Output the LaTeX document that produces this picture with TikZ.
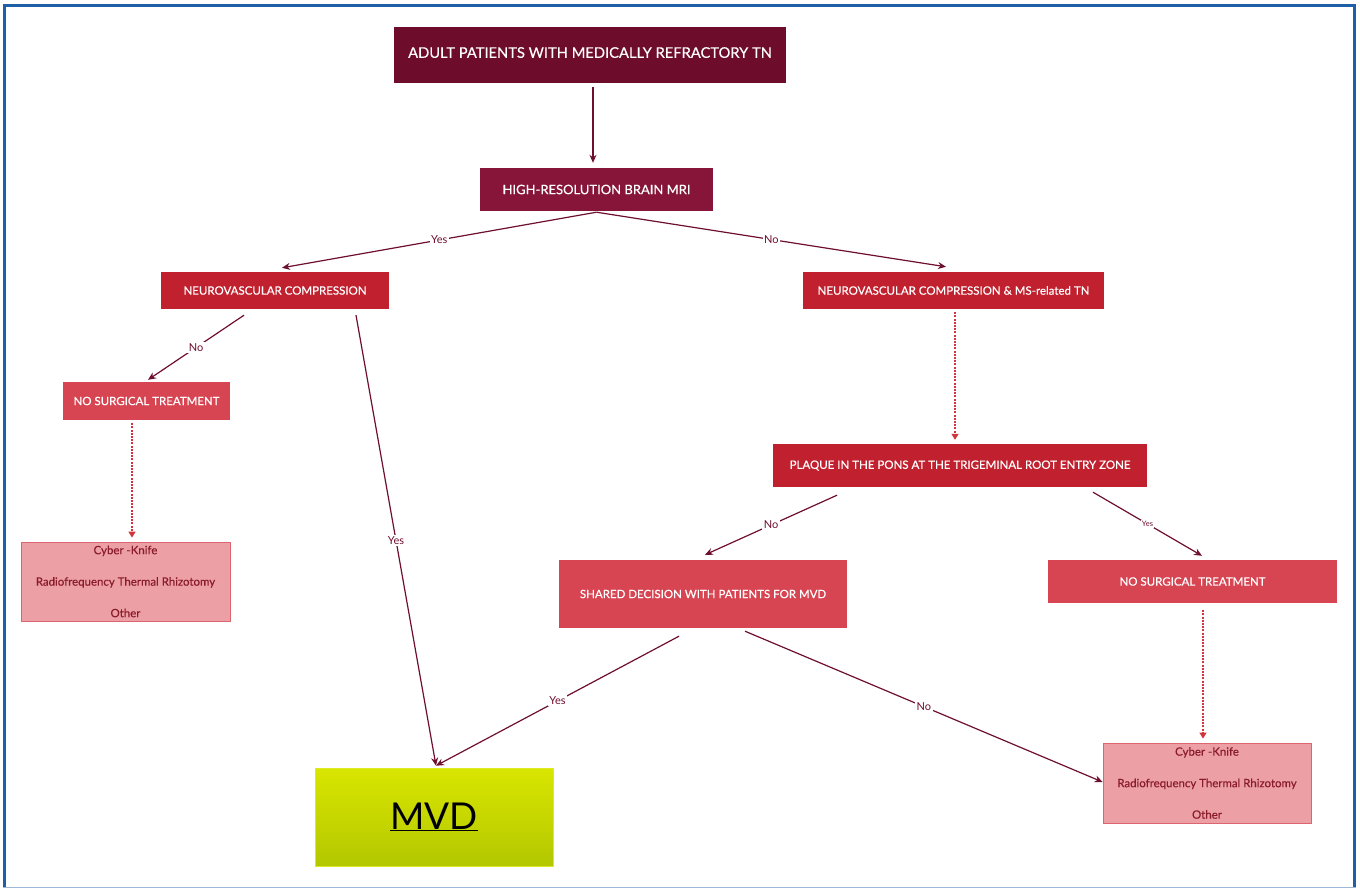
\documentclass[tikz,border=0pt]{standalone}
\usepackage{fontspec}
\setmainfont{Lato}
\newfontfamily\latomed{Lato}[FakeBold=0.35]
\usetikzlibrary{arrows.meta,calc}
\definecolor{darkm}{HTML}{6E0C2B}
\definecolor{midm}{HTML}{861539}
\definecolor{redbox}{HTML}{C1212F}
\definecolor{litered}{HTML}{D84552}
\definecolor{palered}{HTML}{EC9FA5}
\definecolor{paleborder}{HTML}{DB6670}
\definecolor{paletext}{HTML}{8A1B2B}
\definecolor{arrowc}{HTML}{6F0F2F}
\definecolor{dashc}{HTML}{D2343C}
\definecolor{frameblue}{HTML}{1F5FA8}
\definecolor{lightblue}{HTML}{9DB8D6}
\definecolor{mvdtop}{HTML}{D9E600}
\definecolor{mvdbot}{HTML}{B3C700}
\begin{document}
\begin{tikzpicture}[x=1pt,y=-1pt,
  box/.style={rectangle, inner sep=0pt, text=white, align=center},
  bigfont/.style={font=\latomed\fontsize{14.7}{17}\selectfont},
  highfont/.style={font=\latomed\fontsize{13}{15}\selectfont},
  medfont/.style={font=\latomed\fontsize{11.5}{14}\selectfont},
  palebox/.style={rectangle, inner sep=0pt, fill=palered, draw=paleborder, line width=0.8pt, text=paletext, align=center, font=\latomed\fontsize{11.45}{31.5}\selectfont},
  arr/.style={draw=arrowc, line width=1.2pt, -{Stealth[length=8pt,width=7pt]}},
  dsh/.style={draw=dashc, line width=1.2pt, dash pattern=on 2pt off 1.2pt, -{Triangle[length=6pt,width=7pt,fill=dashc]}},
  lbl/.style={fill=white, inner sep=1.5pt, text=arrowc, font=\fontsize{11}{12}\selectfont},
  slbl/.style={fill=white, inner sep=1pt, text=arrowc, font=\fontsize{7.5}{9}\selectfont}
]
\useasboundingbox (0,0) rectangle (1360,888);
\fill[white] (0,0) rectangle (1360,888);
\draw[lightblue, line width=1.2pt] (3,887.2) -- (1356,887.2);
\draw[frameblue, line width=3pt] (4.5,887) -- (4.5,6) -- (1354,6) -- (1354,887);

% nodes
\node[box, bigfont, fill=darkm, minimum width=392pt, minimum height=56pt] (top) at (590,55) {\raisebox{5pt}{ADULT PATIENTS WITH MEDICALLY REFRACTORY TN}};
\node[box, highfont, fill=midm, minimum width=233pt, minimum height=43pt] (high) at (596.5,189.5) {HIGH-RESOLUTION BRAIN MRI};
\node[box, medfont, fill=redbox, minimum width=228pt, minimum height=37pt] (nvc) at (275,290.5) {NEUROVASCULAR COMPRESSION};
\node[box, medfont, fill=redbox, minimum width=301pt, minimum height=37pt] (nvcms) at (953.5,290.5) {NEUROVASCULAR COMPRESSION \& MS-related TN};
\node[box, medfont, fill=litered, minimum width=167pt, minimum height=38pt] (noL) at (146.5,401) {NO SURGICAL TREATMENT};
\node[palebox, minimum width=209pt, minimum height=79pt] (cyL) at (125.5,581.5) {Cyber -Knife\\Radiofrequency Thermal Rhizotomy\\Other};
\node[box, medfont, fill=redbox, minimum width=374pt, minimum height=43pt] (plaque) at (960,465.5) {PLAQUE IN THE PONS AT THE TRIGEMINAL ROOT ENTRY ZONE};
\node[box, medfont, fill=litered, minimum width=288pt, minimum height=68pt] (shared) at (703,594) {SHARED DECISION WITH PATIENTS FOR MVD};
\node[box, medfont, fill=litered, minimum width=289pt, minimum height=43pt] (noR) at (1192.5,581.5) {NO SURGICAL TREATMENT};
\node[palebox, minimum width=208pt, minimum height=80pt] (cyR) at (1207,783) {Cyber -Knife\\Radiofrequency Thermal Rhizotomy\\Other};
\node[rectangle, inner sep=0pt, top color=mvdtop, bottom color=mvdbot, draw=mvdtop!85!white, line width=0.6pt, minimum width=238pt, minimum height=98pt, text=black, font=\fontsize{37}{40}\selectfont] (mvd) at (434,817) {\underline{MVD}};

% connectors
\draw[arr] ([xshift=3pt,yshift=-4pt]top.south) -- ([xshift=-3.5pt,yshift=5pt]high.north);
\draw[arr] ([yshift=-1pt]high.south) -- node[lbl]{Yes} ([xshift=7pt,yshift=4pt]nvc.north);
\draw[arr] ([yshift=-1pt]high.south) -- node[lbl]{No} ([xshift=-7.5pt,yshift=5pt]nvcms.north);
\draw[arr] ([xshift=-31pt,yshift=-6pt]nvc.south) -- node[lbl]{No} ([xshift=1.5pt,yshift=2pt]noL.north);
\draw[arr] ([xshift=81pt,yshift=-6pt]nvc.south) -- node[lbl]{Yes} ([xshift=2pt,yshift=2pt]mvd.north);
\draw[dsh] ([xshift=-14.5pt,yshift=-3pt]noL.south) -- ([xshift=6.5pt,yshift=4pt]cyL.north);
\draw[dsh] ([xshift=1.5pt,yshift=-3pt]nvcms.south) -- ([xshift=-5pt,yshift=4pt]plaque.north);
\draw[arr] ([xshift=-123pt,yshift=-8pt]plaque.south) -- node[lbl]{No} ([xshift=2pt,yshift=5pt]shared.north);
\draw[arr] ([xshift=133pt,yshift=-5pt]plaque.south) -- node[slbl]{Yes} ([xshift=9.5pt,yshift=4pt]noR.north);
\draw[dsh] ([xshift=10.5pt,yshift=-7pt]noR.south) -- ([xshift=-4pt,yshift=4pt]cyR.north);
\draw[arr] ([xshift=-24pt,yshift=-8pt]shared.south) -- node[lbl]{Yes} ([xshift=2pt,yshift=2pt]mvd.north);
\draw[arr] ([xshift=42pt,yshift=-3pt]shared.south) -- node[lbl]{No} ([yshift=1pt]cyR.west);
\end{tikzpicture}
\end{document}
